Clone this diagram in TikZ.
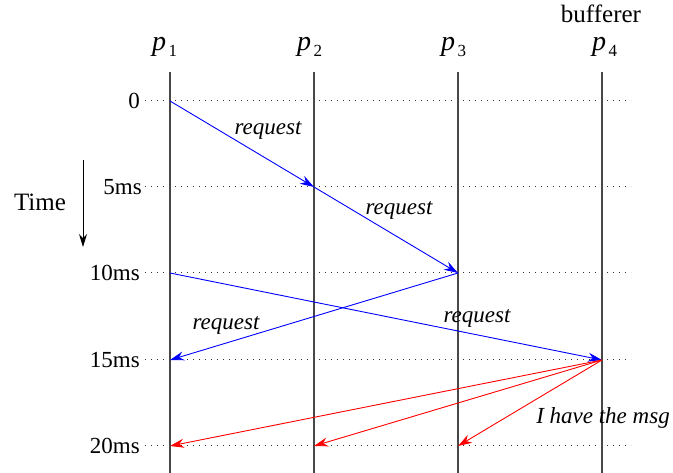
\documentclass[tikz,border=0pt]{standalone}
\usepackage{fontspec}
\setmainfont{Liberation Serif}
\usetikzlibrary{arrows.meta}
\newcommand{\procname}[1]{{\fontsize{28}{30}\selectfont\itshape p}\kern2.5pt\raisebox{-6pt}{\fontsize{17}{20}\selectfont #1}}
\begin{document}
\begin{tikzpicture}[x=1pt,y=-1pt,
  lifeline/.style={draw=black!72, line width=1.7pt},
  tickline/.style={draw=black!80, line width=1pt, dash pattern=on 1pt off 5pt},
  msg/.style={draw=blue, line width=0.9pt, -{Stealth[length=14pt,width=9pt]}},
  reply/.style={draw=red, line width=0.9pt, -{Stealth[length=14pt,width=9pt]}},
  lbl/.style={font=\fontsize{23}{27}\selectfont\itshape, inner sep=0pt},
  ticklbl/.style={font=\fontsize{23}{27}\selectfont, anchor=east, inner sep=0pt},
  big/.style={font=\fontsize{25}{30}\selectfont, inner sep=0pt},
  plbl/.style={anchor=base west, inner sep=0pt}
]
\useasboundingbox (0,0) rectangle (673,473);

% process headers
\node[plbl] (h1) at (152,51) {\procname{1}};
\node[plbl] (h2) at (297,51) {\procname{2}};
\node[plbl] (h3) at (441,51) {\procname{3}};
\node[plbl] (h4) at (592,51) {\procname{4}};
\node[big] (buf) at (601,14) {bufferer};

% tick labels
\node[ticklbl] (t0) at (140,101) {0};
\node[ticklbl] (t5) at (142,187) {5ms};
\node[ticklbl] (t10) at (140,273) {10ms};
\node[ticklbl] (t15) at (140,360) {15ms};
\node[ticklbl] (t20) at (140,446) {20ms};

% dotted time lines
\foreach \y in {101,187,273,360,446}
  \draw[tickline] (145,\y) -- (631,\y);

% lifelines
\coordinate (top1) at (170,72);  \coordinate (bot1) at (170,473);
\coordinate (top2) at (314,72);  \coordinate (bot2) at (314,473);
\coordinate (top3) at (458,72);  \coordinate (bot3) at (458,473);
\coordinate (top4) at (602,72);  \coordinate (bot4) at (602,473);
\draw[lifeline] (top1) -- (bot1);
\draw[lifeline] (top2) -- (bot2);
\draw[lifeline] (top3) -- (bot3);
\draw[lifeline] (top4) -- (bot4);

% Time arrow
\node[big] (time) at (40,202) {Time};
\coordinate (ta) at (83,160);
\coordinate (tb) at (83,247);
\draw[line width=1pt, -{Stealth[length=13pt,width=8pt]}] (ta) -- (tb);

% events
\coordinate (e1a) at (170,101);
\coordinate (e2b) at (314,187);
\coordinate (e3c) at (458,273);
\coordinate (e1c) at (170,273);
\coordinate (e1d) at (170,360);
\coordinate (e4d) at (602,360);
\coordinate (e1e) at (170,446);
\coordinate (e2e) at (314,446);
\coordinate (e3e) at (458,446);

\draw[msg] (e1a) -- (e2b);
\draw[msg] (e2b) -- (e3c);
\draw[msg] (e3c) -- (e1d);
\draw[msg] (e1c) -- (e4d);
\draw[reply] (e4d) -- (e1e);
\draw[reply] (e4d) -- (e2e);
\draw[reply] (e4d) -- (e3e);

% labels
\node[lbl] (l1) at (268,130) {request};
\node[lbl] (l2) at (399,210) {request};
\node[lbl] (l3) at (226,325) {request};
\node[lbl] (l4) at (477,318) {request};
\node[lbl] (l5) at (603,418) {I have the msg};
\end{tikzpicture}
\end{document}
